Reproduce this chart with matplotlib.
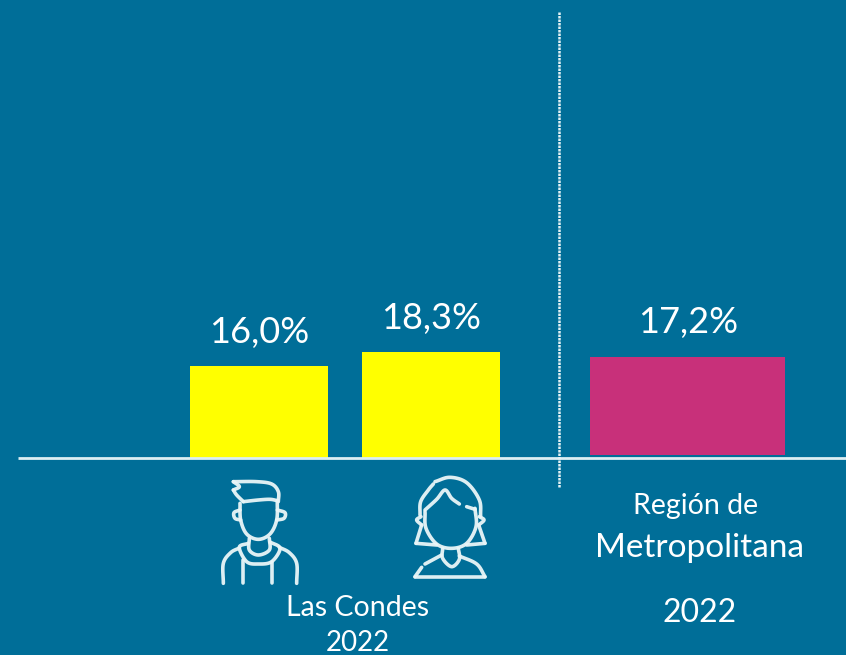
import numpy as np
import matplotlib
matplotlib.use("Agg")
import matplotlib.pyplot as plt

groups = ["Hombres", "Mujeres", "Región Metropolitana"]
values = [16.0, 18.3, 17.2]
labels = ["16,0%", "18,3%", "17,2%"]
colors = ["#FFFF00", "#FFFF00", "#C8307A"]

BG = "#006E98"
W, H = 846, 655
fig = plt.figure(figsize=(W / 100, H / 100), dpi=100, facecolor=BG)
plt.rcParams["font.family"] = ["Lato", "DejaVu Sans"]

def px_axes(base, scale, z=1):
    ax = fig.add_axes([0, 0, 1, 1], zorder=z)
    ax.set_xlim(0, W)
    ax.set_ylim(-(H - base) / scale, base / scale)
    ax.axis("off")
    return ax

ax1 = px_axes(458, 5.77, 1)
ax2 = px_axes(455, 5.70, 2)
ov = fig.add_axes([0, 0, 1, 1], zorder=3)
ov.set_xlim(0, W); ov.set_ylim(H, 0); ov.axis("off"); ov.patch.set_alpha(0)

ax1.bar([259, 431], values[:2], width=138, color=colors[:2], linewidth=0)
ax2.bar([687.5], values[2:], width=195, color=colors[2:], linewidth=0)

ov.plot([18, W], [458, 458], color="#DCEFF3", lw=2, solid_capstyle="butt")
ov.plot([559, 559], [12, 487], color="#E4F2F5", lw=1.8, ls=(0, (1, 0.4)))

for x, y, s in zip([259, 431, 688], [333, 318, 323], labels):
    ov.text(x, y, s, color="white", fontsize=26, ha="center", va="center")

ov.text(358, 608, "Las Condes", color="white", fontsize=20.5, ha="center", va="center")
ov.text(358, 643, "2022", color="white", fontsize=20, ha="center", va="center")
ov.text(696, 506, "Región de", color="white", fontsize=20.5, ha="center", va="center")
ov.text(700, 548, "Metropolitana", color="white", fontsize=24, ha="center", va="center")
ov.text(700, 613, "2022", color="white", fontsize=23, ha="center", va="center")

def smooth(pts, n=12):
    p = np.array(pts, float)
    if len(p) < 3:
        return p
    q = np.vstack([2 * p[0] - p[1], p, 2 * p[-1] - p[-2]])
    out = []
    for i in range(1, len(q) - 2):
        for t in np.linspace(0, 1, n, endpoint=False):
            a, b, c, d = q[i - 1], q[i], q[i + 1], q[i + 2]
            out.append(0.5 * (2 * b + (c - a) * t + (2 * a - 5 * b + 4 * c - d) * t**2
                              + (3 * b - a - 3 * c + d) * t**3))
    out.append(p[-1])
    return np.array(out)

def icon(strokes, lw=2.6, alpha=0.95):
    for s in strokes:
        c = smooth(s)
        ov.plot(190 + c[:, 0] / 3, 460 + c[:, 1] / 3, color="#EAF6F8", lw=lw, alpha=alpha,
                solid_capstyle="round", solid_joinstyle="round")

man = [
    [(150, 130), (152, 180), (170, 222), (205, 238), (240, 222), (260, 180), (262, 122)],
    [(160, 125), (205, 120), (240, 118), (262, 122)],
    [(130, 65), (200, 65), (245, 72), (265, 95), (265, 125)],
    [(130, 65), (148, 80), (130, 90)],
    [(130, 90), (140, 105), (160, 125)],
    [(150, 150), (132, 158), (135, 175), (152, 180)],
    [(262, 150), (285, 158), (282, 175), (260, 180)],
    [(178, 235), (178, 270), (205, 285), (238, 270), (238, 235)],
    [(175, 250), (148, 262), (170, 305), (205, 312), (245, 305), (270, 265), (240, 246)],
    [(100, 370), (100, 310), (122, 278), (148, 264)],
    [(320, 370), (320, 310), (298, 278), (268, 262)],
    [(158, 300), (158, 370)],
    [(245, 305), (245, 370)],
]
woman = [
    [(690, 165), (692, 125), (715, 90), (730, 72)],
    [(735, 65), (780, 52), (830, 68), (868, 120), (872, 170)],
    [(705, 155), (708, 205), (740, 252), (785, 265), (830, 250), (858, 200), (855, 145)],
    [(705, 150), (740, 118), (765, 90), (785, 115), (808, 132)],
    [(830, 140), (855, 148)],
    [(693, 170), (680, 180), (695, 195)],
    [(868, 170), (882, 180), (866, 195)],
    [(695, 195), (678, 250)],
    [(678, 250), (740, 255)],
    [(866, 195), (885, 250)],
    [(885, 250), (830, 255)],
    [(758, 265), (758, 295), (785, 320), (808, 298), (805, 265)],
    [(675, 350), (885, 350)],
    [(675, 350), (695, 322)],
    [(705, 312), (755, 285)],
    [(885, 350), (860, 312), (808, 288)],
]
icon(man)
icon(woman)

fig.savefig("out.png", dpi=100, facecolor=BG)
